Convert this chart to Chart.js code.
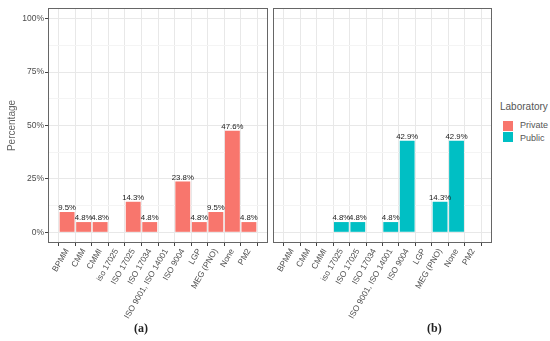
<!DOCTYPE html>
<html>
<head>
<meta charset="utf-8">
<script src="https://cdn.jsdelivr.net/npm/chart.js@4.4.1/dist/chart.umd.min.js"></script>
<style>
  body { margin: 0; background: #fff; }
  #page { position: relative; width: 550px; height: 341px; overflow: hidden; font-family: "Liberation Sans", Arial, sans-serif; }
  .panel { position: absolute; top: 0; height: 341px; }
  #panelA { left: 0; width: 270px; }
  #panelB { left: 270px; width: 230px; }
  .caption { position: absolute; top: 321px; font: bold 12px "Liberation Serif", "Times New Roman", serif; color: #222; }
  #legend { position: absolute; left: 500px; top: 100px; font-size: 9px; color: #555; }
  #legend .key { position: absolute; left: 3px; width: 10px; height: 10px; }
  #legend .lab { position: absolute; left: 20px; white-space: nowrap; }
</style>
</head>
<body>
<div id="page">
  <div class="panel" id="panelA"><canvas id="chartA"></canvas></div>
  <div class="panel" id="panelB"><canvas id="chartB"></canvas></div>
  <div class="caption" style="left:134px">(a)</div>
  <div class="caption" style="left:427px">(b)</div>
  <div id="legend">
    <div style="position:absolute;left:0;top:1px;white-space:nowrap;font-size:10px">Laboratory</div>
    <div class="key" style="top:21px;background:#F8766D"></div>
    <div class="lab" style="top:20px">Private</div>
    <div class="key" style="top:32px;background:#00BFC4"></div>
    <div class="lab" style="top:33px">Public</div>
  </div>
</div>
<script>
// categories on the x axis (same for both panels)
const categories = ['BPMM', 'CMM', 'CMMI', 'iso 17025', 'ISO 17025', 'ISO 17034',
  'ISO 9001, ISO 14001', 'ISO 9004', 'LGP', 'MEG (PNO)', 'None', 'PM2'];

// percentages per laboratory type (null = no bar)
const privateValues = [9.5, 4.8, 4.8, null, 14.3, 4.8, null, 23.8, 4.8, 9.5, 47.6, 4.8];
const publicValues = [null, null, null, 4.8, 4.8, null, 4.8, 42.9, null, 14.3, 42.9, null];

// y axis: labelled ticks plus the minor grid in between
const yTicks = [0, 25, 50, 75, 100];
const yMinor = [12.5, 37.5, 62.5, 87.5];

const PRIVATE_COLOR = '#F8766D';
const PUBLIC_COLOR = '#00BFC4';

const toPoints = vals => vals.map((v, i) => ({ x: i, y: v }));

// value labels on top of the bars
const barLabels = {
  id: 'barLabels',
  afterDatasetsDraw(chart) {
    const ctx = chart.ctx;
    ctx.save();
    ctx.font = '7.8px "Liberation Sans", Arial, sans-serif';
    ctx.fillStyle = '#1a1a1a';
    ctx.textAlign = 'center';
    ctx.textBaseline = 'bottom';
    chart.data.datasets.forEach((ds, di) => {
      chart.getDatasetMeta(di).data.forEach((bar, i) => {
        const v = ds.data[i].y;
        if (v == null) return;
        ctx.fillText(v.toFixed(1) + '%', bar.x, bar.y);
      });
    });
    ctx.restore();
  }
};

// panel border (theme_bw style)
const panelFrame = {
  id: 'panelFrame',
  afterDraw(chart) {
    const a = chart.chartArea;
    const ctx = chart.ctx;
    ctx.save();
    ctx.strokeStyle = '#666';
    ctx.lineWidth = 1;
    ctx.strokeRect(Math.round(a.left) + 0.5, Math.round(a.top) + 0.5,
      Math.round(a.right - a.left) - 1, Math.round(a.bottom - a.top) - 1);
    ctx.restore();
  }
};

function makeChart(id, values, color, showY, padRight) {
  return new Chart(document.getElementById(id), {
    type: 'bar',
    data: {
      datasets: [{
        data: toPoints(values),
        backgroundColor: color,
        borderWidth: 0,
        barPercentage: 1,
        categoryPercentage: 0.9
      }]
    },
    options: {
      responsive: true,
      maintainAspectRatio: false,
      animation: false,
      layout: { padding: { top: 8, right: padRight, left: 0, bottom: 0 } },
      plugins: { legend: { display: false }, tooltip: { enabled: false } },
      scales: {
        x: {
          type: 'linear',
          min: -0.6,
          max: categories.length - 0.4,
          afterBuildTicks: axis => { axis.ticks = categories.map((c, i) => ({ value: i })); },
          afterFit: axis => { axis.height = 98; },
          border: { display: false },
          grid: { color: '#e8e8e8', lineWidth: 1, tickLength: 3, tickColor: '#444' },
          ticks: {
            autoSkip: false,
            minRotation: 60,
            maxRotation: 60,
            padding: 1,
            color: '#4d4d4d',
            font: { size: 8.3, family: '"Liberation Sans", Arial, sans-serif' },
            callback: v => categories[v]
          }
        },
        y: {
          min: -5,
          max: 105,
          afterBuildTicks: axis => {
            axis.ticks = yTicks.concat(yMinor).sort((a, b) => a - b).map(v => ({ value: v }));
          },
          afterFit: axis => { axis.width = showY ? 48 : 3; },
          border: { display: false },
          grid: {
            color: c => yTicks.includes(c.tick.value) ? '#e8e8e8' : '#f4f4f4',
            drawTicks: showY,
            tickLength: 3,
            tickColor: c => yTicks.includes(c.tick.value) ? '#444' : 'rgba(0,0,0,0)'
          },
          ticks: {
            display: showY,
            padding: 1,
            color: '#4d4d4d',
            font: { size: 8.5, family: '"Liberation Sans", Arial, sans-serif' },
            callback: v => yTicks.includes(v) ? v + '%' : ''
          },
          title: {
            display: showY,
            text: 'Percentage',
            color: '#666',
            padding: { top: 6, bottom: 0 },
            font: { size: 10, family: '"Liberation Sans", Arial, sans-serif' }
          }
        }
      }
    },
    plugins: [barLabels, panelFrame]
  });
}

makeChart('chartA', privateValues, PRIVATE_COLOR, true, 2);
makeChart('chartB', publicValues, PUBLIC_COLOR, false, 8);
</script>
</body>
</html>
